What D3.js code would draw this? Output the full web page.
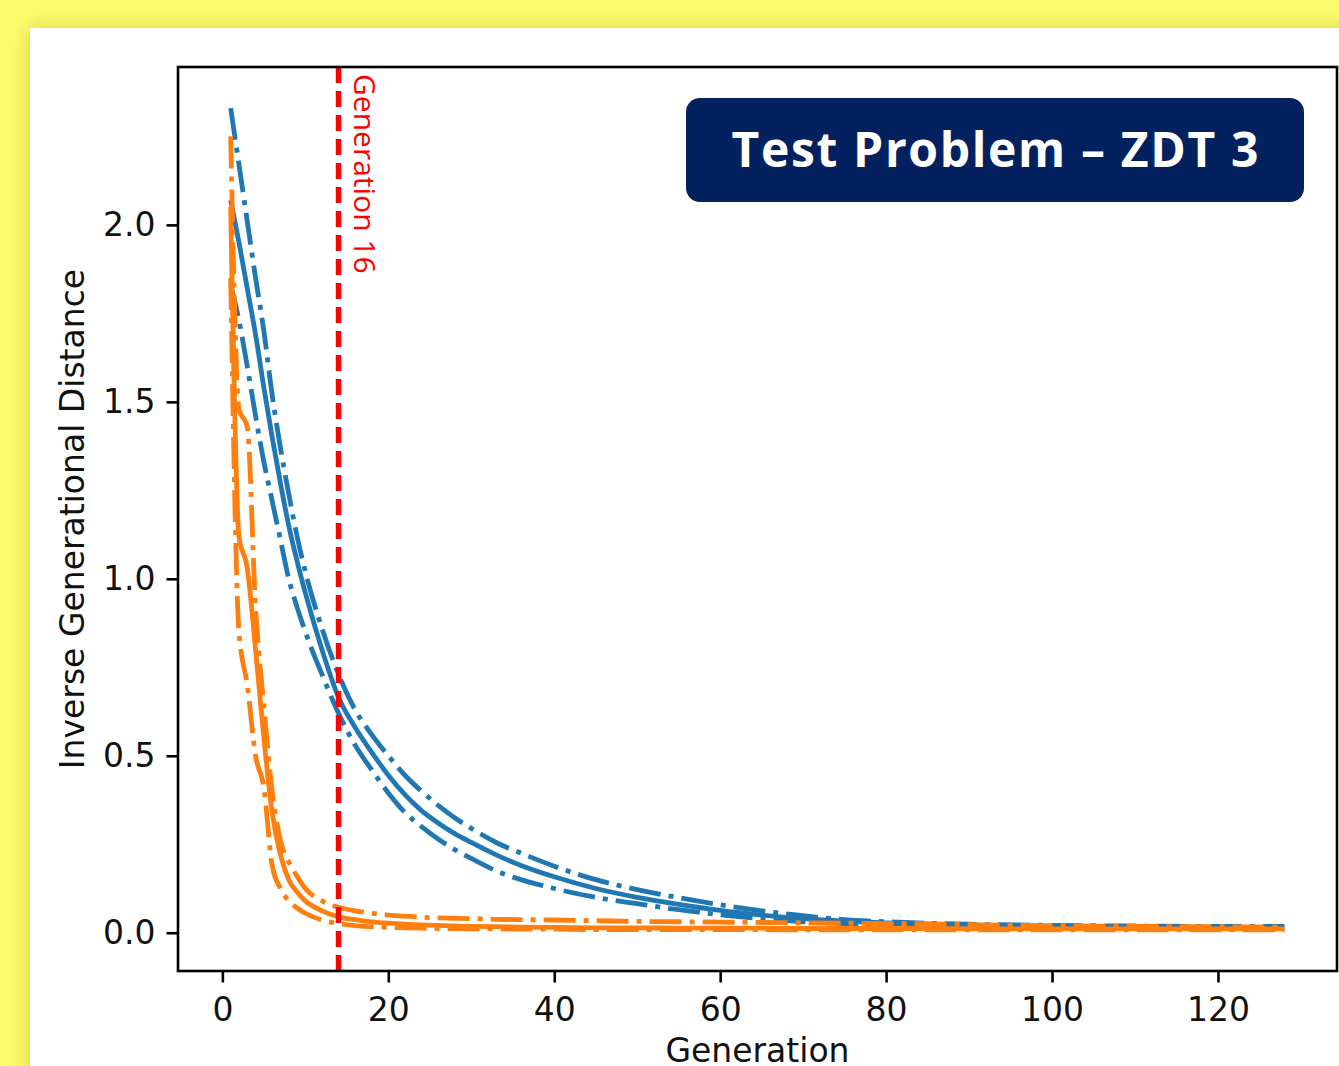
<!DOCTYPE html>
<html>
<head>
<meta charset="utf-8">
<script src="https://cdn.jsdelivr.net/npm/d3@7"></script>
<style>
  body { margin: 0; overflow: hidden; background: #fcfb6c; }
  text { font-family: "DejaVu Sans", sans-serif; }
</style>
</head>
<body>
<svg id="chart"></svg>
<script>
var width = 1339;
var height = 1066;
var frame = { left: 178, top: 67, right: 1337, bottom: 971 };

// generations
var generations = [1, 2, 3, 4, 5, 6, 7, 8, 9, 10, 12, 14, 16, 18, 20, 22, 24, 26, 28, 30,
  33, 36, 40, 45, 50, 55, 60, 65, 70, 75, 80, 85, 90, 100, 110, 120, 128];

var blueMean = [2.07, 1.95, 1.82, 1.69, 1.54, 1.40, 1.27, 1.15, 1.05, 0.96, 0.80, 0.665, 0.58, 0.51, 0.445, 0.39, 0.345, 0.31, 0.28, 0.255,
  0.22, 0.19, 0.158, 0.125, 0.10, 0.08, 0.063, 0.05, 0.04, 0.033, 0.028, 0.024, 0.021, 0.018, 0.016, 0.015, 0.015];
var blueUpper = [2.33, 2.17, 2.01, 1.85, 1.70, 1.52, 1.37, 1.24, 1.12, 1.02, 0.86, 0.73, 0.63, 0.56, 0.50, 0.445, 0.40, 0.36, 0.325, 0.295,
  0.255, 0.225, 0.188, 0.15, 0.122, 0.099, 0.079, 0.062, 0.048, 0.037, 0.031, 0.027, 0.024, 0.021, 0.019, 0.018, 0.018];
var blueLower = [1.83, 1.73, 1.60, 1.46, 1.33, 1.22, 1.11, 1.00, 0.92, 0.85, 0.73, 0.62, 0.53, 0.46, 0.395, 0.34, 0.30, 0.265, 0.235, 0.21,
  0.175, 0.15, 0.125, 0.10, 0.082, 0.065, 0.051, 0.04, 0.031, 0.026, 0.022, 0.019, 0.017, 0.015, 0.013, 0.013, 0.013];

var orangeMean = [2.05, 1.12, 1.03, 0.80, 0.55, 0.34, 0.22, 0.15, 0.115, 0.09, 0.062, 0.045, 0.037, 0.031, 0.027, 0.024, 0.022, 0.021, 0.019, 0.018,
  0.017, 0.016, 0.015, 0.014, 0.014, 0.013, 0.013, 0.013, 0.012, 0.012, 0.012, 0.012, 0.011, 0.011, 0.011, 0.011, 0.011];
var orangeUpper = [2.25, 1.48, 1.43, 0.92, 0.64, 0.40, 0.26, 0.20, 0.16, 0.125, 0.09, 0.072, 0.062, 0.055, 0.05, 0.047, 0.044, 0.042, 0.041, 0.04,
  0.038, 0.037, 0.036, 0.034, 0.032, 0.031, 0.03, 0.029, 0.028, 0.027, 0.026, 0.025, 0.023, 0.02, 0.018, 0.017, 0.016];
var orangeLower = [1.85, 0.85, 0.70, 0.50, 0.41, 0.19, 0.125, 0.09, 0.07, 0.055, 0.036, 0.026, 0.02, 0.017, 0.015, 0.014, 0.013, 0.012, 0.012, 0.011,
  0.011, 0.010, 0.010, 0.009, 0.009, 0.009, 0.009, 0.009, 0.008, 0.008, 0.008, 0.008, 0.008, 0.008, 0.008, 0.008, 0.008];

var xTicks = [0, 20, 40, 60, 80, 100, 120];
var yTicks = [0.0, 0.5, 1.0, 1.5, 2.0];
var markerGeneration = 14;
var markerLabel = "Generation 16";
var titleText = "Test Problem \u2013 ZDT 3";

var series = [
  { values: blueUpper, color: "#1f77b4", dash: "32,8,5,8" },
  { values: blueLower, color: "#1f77b4", dash: "32,8,5,8" },
  { values: blueMean, color: "#1f77b4", dash: null },
  { values: orangeUpper, color: "#ff7f0e", dash: "32,8,5,8" },
  { values: orangeLower, color: "#ff7f0e", dash: "32,8,5,8" },
  { values: orangeMean, color: "#ff7f0e", dash: null }
];

var svg = d3.select("#chart")
  .attr("width", width)
  .attr("height", height);

var defs = svg.append("defs");
var shadow = defs.append("filter")
  .attr("id", "shadow")
  .attr("x", "-10%").attr("y", "-10%")
  .attr("width", "120%").attr("height", "120%");
shadow.append("feDropShadow")
  .attr("dx", 0).attr("dy", 0)
  .attr("stdDeviation", 10)
  .attr("flood-color", "#8a8000")
  .attr("flood-opacity", 0.35);

// yellow backdrop + white card
svg.append("rect")
  .attr("width", width).attr("height", height)
  .attr("fill", "#fcfb6c");
svg.append("rect")
  .attr("x", 30).attr("y", 28)
  .attr("width", width).attr("height", height)
  .attr("fill", "#ffffff")
  .attr("filter", "url(#shadow)");

// matplotlib-like 5% margins
var xMin = d3.min(generations), xMax = d3.max(generations);
var xPad = (xMax - xMin) * 0.05;
var allValues = [].concat(blueMean, blueUpper, blueLower, orangeMean, orangeUpper, orangeLower);
var yMin = d3.min(allValues), yMax = d3.max(allValues);
var yPad = (yMax - yMin) * 0.05;

var x = d3.scaleLinear()
  .domain([xMin - xPad, xMax + xPad])
  .range([frame.left, frame.right]);
var y = d3.scaleLinear()
  .domain([yMin - yPad, yMax + yPad])
  .range([frame.bottom, frame.top]);

var plot = svg.append("g");
plot.append("clipPath").attr("id", "clip")
  .append("rect")
  .attr("x", frame.left).attr("y", frame.top)
  .attr("width", frame.right - frame.left)
  .attr("height", frame.bottom - frame.top);

var line = d3.line()
  .x(function(d) { return x(d[0]); })
  .y(function(d) { return y(d[1]); })
  .curve(d3.curveMonotoneX);

var lines = plot.append("g").attr("clip-path", "url(#clip)");
series.forEach(function(s) {
  var pts = generations.map(function(g, i) { return [g, s.values[i]]; });
  lines.append("path")
    .attr("d", line(pts))
    .attr("fill", "none")
    .attr("stroke", s.color)
    .attr("stroke-width", 4.8)
    .attr("stroke-linejoin", "round")
    .attr("stroke-dasharray", s.dash);
});

// red marker line
lines.append("line")
  .attr("x1", x(markerGeneration)).attr("x2", x(markerGeneration))
  .attr("y1", frame.top).attr("y2", frame.bottom)
  .attr("stroke", "#ff0000")
  .attr("stroke-width", 5.5)
  .attr("stroke-dasharray", "16,8");

svg.append("text")
  .attr("transform", "translate(" + (x(markerGeneration) + 15) + "," + 74 + ") rotate(90)")
  .style("font-family", "'Open Sans', sans-serif")
  .style("font-size", "30px")
  .attr("fill", "#ff0000")
  .text(markerLabel);

// axes
var xAxis = svg.append("g")
  .attr("transform", "translate(0," + frame.bottom + ")")
  .call(d3.axisBottom(x).tickValues(xTicks).tickSize(11.5).tickPadding(15).tickFormat(d3.format("d")));
var yAxis = svg.append("g")
  .attr("transform", "translate(" + frame.left + ",0)")
  .call(d3.axisLeft(y).tickValues(yTicks).tickSize(11.5).tickPadding(11).tickFormat(d3.format(".1f")));

[xAxis, yAxis].forEach(function(a) {
  a.select(".domain").remove();
  a.selectAll(".tick line").attr("stroke", "#000").attr("stroke-width", 2.6);
  a.selectAll(".tick text")
    .attr("fill", "#111")
    .style("font-family", "'DejaVu Sans', sans-serif")
    .style("font-size", "33px");
});

svg.append("rect")
  .attr("x", frame.left).attr("y", frame.top)
  .attr("width", frame.right - frame.left)
  .attr("height", frame.bottom - frame.top)
  .attr("fill", "none")
  .attr("stroke", "#000")
  .attr("stroke-width", 2.6);

svg.append("text")
  .attr("x", (frame.left + frame.right) / 2)
  .attr("y", 1062)
  .style("text-anchor", "middle")
  .style("font-size", "33px")
  .attr("fill", "#111")
  .text("Generation");

svg.append("text")
  .attr("transform", "translate(84," + (frame.top + frame.bottom) / 2 + ") rotate(-90)")
  .style("text-anchor", "middle")
  .style("font-size", "33px")
  .attr("fill", "#111")
  .text("Inverse Generational Distance");

// title badge
svg.append("rect")
  .attr("x", 686).attr("y", 98)
  .attr("width", 618).attr("height", 104)
  .attr("rx", 14)
  .attr("fill", "#03205f");
svg.append("text")
  .attr("x", 995).attr("y", 167)
  .style("text-anchor", "middle")
  .style("font-family", "'Open Sans', sans-serif")
  .style("font-weight", 700)
  .style("font-size", "48px")
  .attr("fill", "#ffffff")
  .attr("textLength", 527)
  .attr("lengthAdjust", "spacing")
  .text(titleText);
</script>
</body>
</html>
